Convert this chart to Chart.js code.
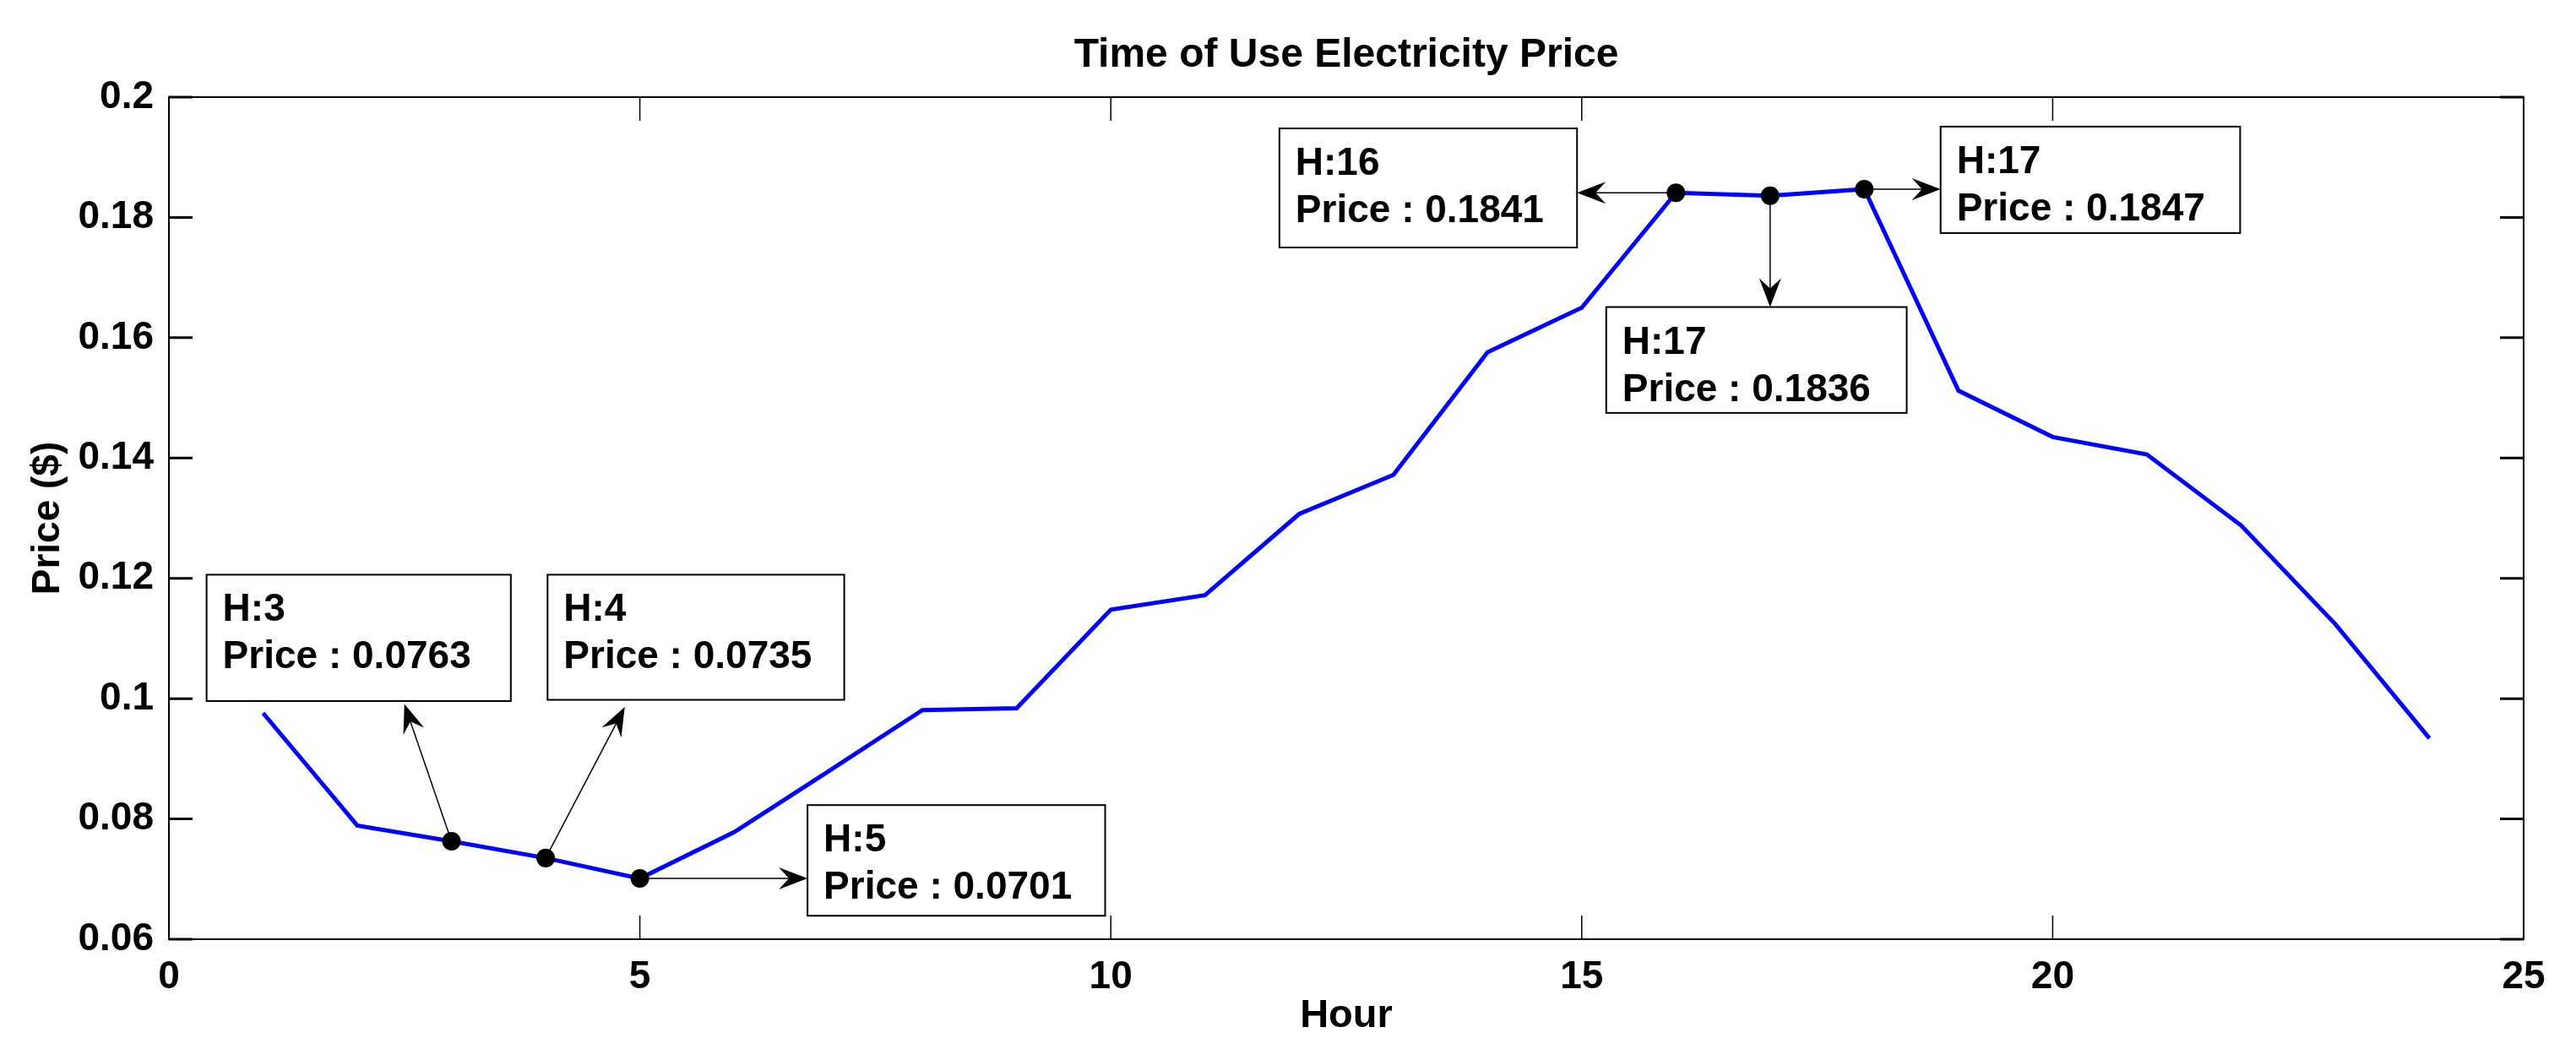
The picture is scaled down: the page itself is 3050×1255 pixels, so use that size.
<!DOCTYPE html>
<html>
<head>
<meta charset="utf-8">
<title>Time of Use Electricity Price</title>
<script src="https://cdn.jsdelivr.net/npm/chart.js@4.4.1/dist/chart.umd.min.js"></script>
<style>
    html, body { margin: 0; padding: 0; background: #fff; }
    #priceChart { display: block; }
</style>
</head>
<body>
<canvas id="priceChart" width="3050" height="1255"></canvas>
<script>
// data
const hours = [1, 2, 3, 4, 5, 6, 7, 8, 9, 10, 11, 12, 13, 14, 15, 16, 17, 18, 19, 20, 21, 22, 23, 24];
const prices = [0.0976, 0.0789, 0.0763, 0.0735, 0.0701, 0.0778, 0.0879, 0.0981, 0.0984, 0.1148, 0.1172, 0.1307,
                0.1372, 0.1576, 0.1650, 0.1841, 0.1836, 0.1847, 0.1512, 0.1435, 0.1406, 0.1288, 0.1124, 0.0934];
const xTicks = [0, 5, 10, 15, 20, 25];
const yTicks = [0.06, 0.08, 0.1, 0.12, 0.14, 0.16, 0.18, 0.2];

// data tips shown on the chart (labels as printed in the original)
const markedHours = [3, 4, 5, 16, 17, 18];
const markLabels = ['H:3', 'H:4', 'H:5', 'H:16', 'H:17', 'H:17'];

// where each tip box sits, in axis units: box = [left, top, right, bottom], tip = arrow end
const calloutLayout = [
    { box: [0.40, 0.1206, 3.63, 0.0996], tip: [2.50, 0.0991] },
    { box: [4.02, 0.1206, 7.17, 0.0998], tip: [4.84, 0.0986] },
    { box: [6.78, 0.0823, 9.94, 0.0639], tip: [6.78, null] },
    { box: [11.79, 0.1948, 14.95, 0.1750], tip: [14.95, null] },
    { box: [15.26, 0.1651, 18.45, 0.1475], tip: [null, 0.1651] },
    { box: [18.81, 0.1951, 21.99, 0.1774], tip: [18.81, null] }
];

const FONT = "'Liberation Sans', Arial, Helvetica, sans-serif";
const TICK_LEN = 28;

Chart.defaults.color = '#000';
Chart.defaults.font.family = FONT;

function drawArrow(ctx, x0, y0, x1, y1) {
    const ang = Math.atan2(y1 - y0, x1 - x0);
    ctx.beginPath();
    ctx.moveTo(x0, y0);
    ctx.lineTo(x1 - Math.cos(ang) * 20, y1 - Math.sin(ang) * 20);
    ctx.stroke();
    ctx.save();
    ctx.translate(x1, y1);
    ctx.rotate(ang);
    ctx.beginPath();
    ctx.moveTo(0, 0);
    ctx.lineTo(-34, -13);
    ctx.lineTo(-22, 0);
    ctx.lineTo(-34, 13);
    ctx.closePath();
    ctx.fill();
    ctx.restore();
}

// box with inward ticks, like the matlab axes
const axesFrame = {
    id: 'axesFrame',
    afterDatasetsDraw(chart) {
        const { ctx, chartArea: a, scales: { x, y } } = chart;
        ctx.save();
        ctx.strokeStyle = '#000';
        ctx.lineWidth = 1.5;
        ctx.beginPath();
        xTicks.forEach(v => {
            const px = x.getPixelForValue(v);
            ctx.moveTo(px, a.bottom); ctx.lineTo(px, a.bottom - TICK_LEN);
            ctx.moveTo(px, a.top); ctx.lineTo(px, a.top + TICK_LEN);
        });
        ctx.stroke();
        ctx.lineWidth = 3;
        ctx.beginPath();
        yTicks.forEach(v => {
            const py = y.getPixelForValue(v);
            ctx.moveTo(a.left, py); ctx.lineTo(a.left + TICK_LEN, py);
            ctx.moveTo(a.right, py); ctx.lineTo(a.right - TICK_LEN, py);
        });
        ctx.stroke();
        ctx.lineWidth = 2;
        ctx.strokeRect(a.left, a.top, a.right - a.left, a.bottom - a.top);
        ctx.restore();
    }
};

const callouts = {
    id: 'callouts',
    afterDatasetsDraw(chart) {
        const { ctx, scales: { x, y } } = chart;
        ctx.save();
        ctx.strokeStyle = '#000';
        ctx.fillStyle = '#000';
        markedHours.forEach((h, i) => {
            const lay = calloutLayout[i];
            const price = prices[hours.indexOf(h)];
            const px = x.getPixelForValue(h);
            const py = y.getPixelForValue(price);
            const tx = x.getPixelForValue(lay.tip[0] === null ? h : lay.tip[0]);
            const ty = y.getPixelForValue(lay.tip[1] === null ? price : lay.tip[1]);
            ctx.lineWidth = 1.5;
            drawArrow(ctx, px, py, tx, ty);

            const bx0 = x.getPixelForValue(lay.box[0]);
            const by0 = y.getPixelForValue(lay.box[1]);
            const bx1 = x.getPixelForValue(lay.box[2]);
            const by1 = y.getPixelForValue(lay.box[3]);
            ctx.fillStyle = '#fff';
            ctx.fillRect(bx0, by0, bx1 - bx0, by1 - by0);
            ctx.lineWidth = 2;
            ctx.strokeRect(bx0, by0, bx1 - bx0, by1 - by0);
            ctx.fillStyle = '#000';
            ctx.font = 'bold 46px ' + FONT;
            ctx.textAlign = 'left';
            ctx.textBaseline = 'alphabetic';
            ctx.fillText(markLabels[i], bx0 + 19, by0 + 55);
            ctx.fillText('Price : ' + price.toFixed(4), bx0 + 19, by0 + 111);
        });
        ctx.restore();
    }
};

const ctx = document.getElementById('priceChart').getContext('2d');

new Chart(ctx, {
    type: 'line',
    data: {
        datasets: [{
            label: 'tips',
            data: markedHours.map(h => ({ x: h, y: prices[hours.indexOf(h)] })),
            showLine: false,
            pointRadius: 11,
            pointBackgroundColor: '#000',
            pointBorderWidth: 0,
            order: 0
        }, {
            label: 'Price',
            data: hours.map((h, i) => ({ x: h, y: prices[i] })),
            borderColor: '#0000ff',
            borderWidth: 5,
            pointRadius: 0,
            tension: 0,
            fill: false,
            order: 1
        }]
    },
    options: {
        responsive: false,
        animation: false,
        devicePixelRatio: 1,
        layout: { padding: { left: 0, right: 62, top: 0, bottom: 0 } },
        plugins: {
            legend: { display: false },
            tooltip: { enabled: false },
            title: {
                display: true,
                text: 'Time of Use Electricity Price',
                fullSize: false,
                font: { size: 48, weight: 'bold', lineHeight: 1 },
                padding: { top: 42, bottom: 25 }
            }
        },
        scales: {
            x: {
                type: 'linear',
                min: 0,
                max: 25,
                grid: { display: false },
                border: { display: false },
                afterBuildTicks: scale => { scale.ticks = xTicks.map(v => ({ value: v })); },
                afterFit: scale => { scale.height = 143; },
                ticks: {
                    padding: 14,
                    font: { size: 46, weight: 'bold', lineHeight: 1 },
                    maxRotation: 0,
                    callback: v => String(v)
                },
                title: {
                    display: true,
                    text: 'Hour',
                    font: { size: 47, weight: 'bold', lineHeight: 1 },
                    padding: { top: 0, bottom: 28 }
                }
            },
            y: {
                min: 0.06,
                max: 0.2,
                grid: { display: false },
                border: { display: false },
                afterBuildTicks: scale => { scale.ticks = yTicks.map(v => ({ value: v })); },
                afterFit: scale => { scale.width = 200; },
                ticks: {
                    padding: 10,
                    font: { size: 46, weight: 'bold', lineHeight: 1 },
                    callback: v => String(parseFloat(v.toFixed(2)))
                },
                title: {
                    display: true,
                    text: 'Price ($)',
                    font: { size: 46, weight: 'bold', lineHeight: 1 },
                    padding: { top: 34, bottom: 0 }
                }
            }
        }
    },
    plugins: [axesFrame, callouts]
});
</script>
</body>
</html>
